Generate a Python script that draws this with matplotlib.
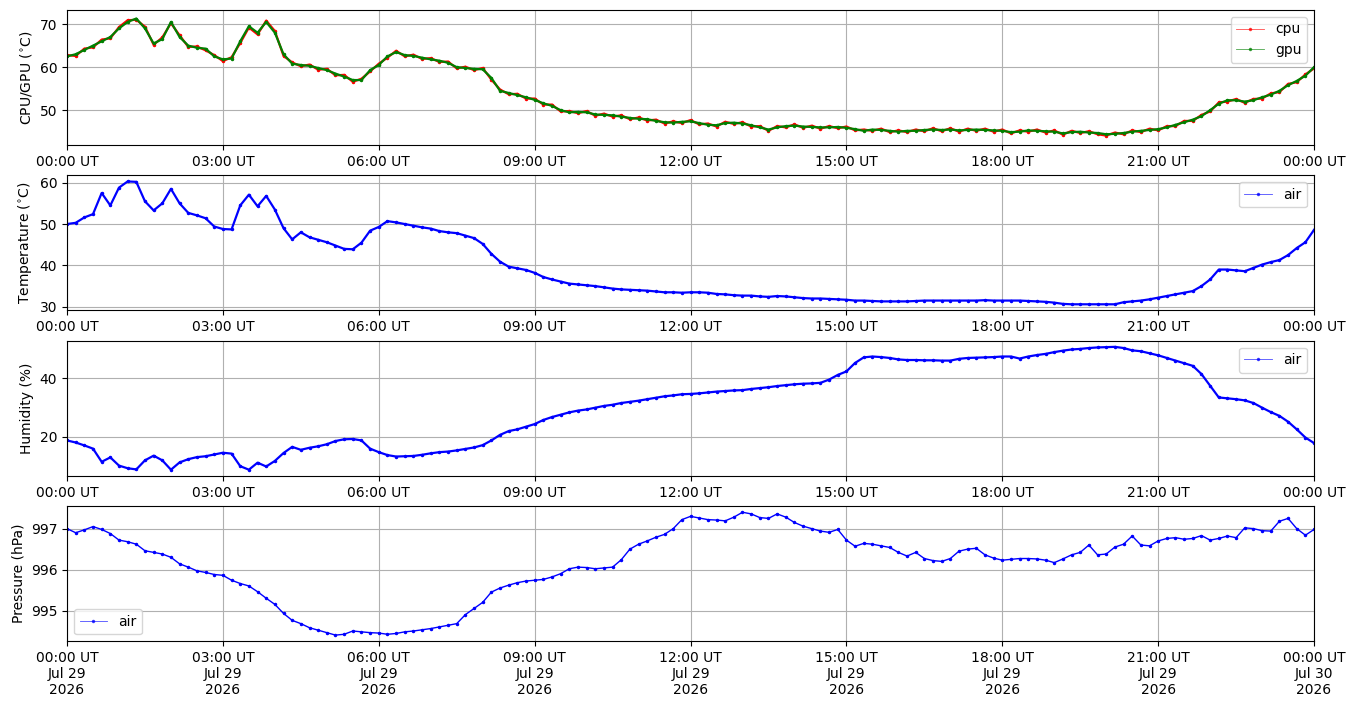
import numpy as np
import pandas as pd
import matplotlib
matplotlib.use('Agg')
import matplotlib.pyplot as plt
import matplotlib.dates as mdates
from matplotlib.lines import Line2D
from matplotlib.ticker import MultipleLocator, ScalarFormatter

# readings every 10 minutes, 29 Jul 2026 00:00 -> 30 Jul 00:00 UT
times = pd.date_range('2026-07-29 00:00', periods=145, freq='10min')

gpu = [62.5, 63.0, 64.0, 65.0, 66.0, 67.0, 69.0, 70.5, 71.3, 69.0,
       65.5, 66.5, 70.5, 67.0, 65.0, 64.5, 64.3, 62.5, 61.8, 62.0,
       66.0, 69.5, 68.0, 70.5, 68.0, 63.0, 60.8, 60.5, 60.3, 59.8,
       59.3, 58.5, 57.8, 57.0, 57.0, 59.3, 60.5, 62.5, 63.5, 62.8,
       62.6, 62.2, 61.8, 61.5, 61.0, 60.0, 59.8, 59.6, 59.5, 57.5,
       54.5, 54.0, 53.5, 53.0, 52.4, 51.6, 51.0, 50.0, 49.5, 49.6,
       49.5, 49.0, 48.9, 48.8, 48.5, 48.2, 48.0, 47.9, 47.5, 47.2,
       47.1, 47.3, 47.4, 47.0, 46.6, 46.5, 47.0, 47.1, 46.9, 46.5,
       46.0, 45.5, 46.0, 46.3, 46.4, 46.2, 46.1, 46.0, 46.0, 46.1,
       45.9, 45.6, 45.2, 45.5, 45.4, 45.2, 45.0, 45.2, 45.2, 45.4,
       45.5, 45.4, 45.5, 45.3, 45.4, 45.5, 45.4, 45.3, 45.2, 44.9,
       45.0, 45.3, 45.2, 45.1, 45.0, 44.6, 44.9, 45.0, 44.8, 44.7,
       44.4, 44.5, 44.7, 45.0, 45.2, 45.4, 45.6, 46.0, 46.6, 47.2,
       47.8, 48.6, 50.0, 51.5, 52.3, 52.3, 52.0, 52.3, 53.0, 53.6,
       54.5, 55.8, 56.8, 58.0, 60.0]

cpu = [62.8, 62.6, 64.3, 64.6, 66.4, 66.7, 69.3, 70.9, 71.0, 69.4,
       65.2, 66.9, 70.2, 67.4, 64.7, 64.8, 63.9, 62.8, 61.4, 62.3,
       65.6, 69.2, 67.6, 70.8, 68.4, 62.6, 61.1, 60.2, 60.6, 59.4,
       59.6, 58.1, 58.2, 56.6, 57.3, 59.0, 60.8, 62.2, 63.8, 62.5,
       62.9, 61.9, 62.1, 61.2, 61.3, 59.7, 60.1, 59.3, 59.8, 57.1,
       54.8, 53.7, 53.8, 52.7, 52.7, 51.3, 51.3, 49.7, 49.8, 49.3,
       49.8, 48.7, 49.2, 48.5, 48.8, 47.9, 48.3, 47.6, 47.8, 46.9,
       47.4, 47.0, 47.7, 46.7, 46.9, 46.2, 47.3, 46.8, 47.2, 46.2,
       46.3, 45.2, 46.3, 46.0, 46.7, 45.9, 46.4, 45.7, 46.3, 45.8,
       46.2, 45.3, 45.5, 45.2, 45.7, 44.9, 45.3, 44.9, 45.5, 45.1,
       45.8, 45.1, 45.8, 45.0, 45.7, 45.2, 45.7, 45.0, 45.5, 44.6,
       45.3, 45.0, 45.5, 44.8, 45.3, 44.3, 45.2, 44.7, 45.1, 44.4,
       44.1, 44.8, 44.4, 45.3, 44.9, 45.7, 45.3, 46.3, 46.3, 47.5,
       47.5, 48.9, 49.7, 51.8, 52.0, 52.6, 51.7, 52.6, 52.7, 53.9,
       54.2, 56.1, 56.5, 58.3, 59.7]

temp = [50.0, 50.3, 51.6, 52.4, 57.5, 54.5, 58.8, 60.3, 60.2, 55.5,
        53.3, 55.0, 58.5, 55.0, 52.7, 52.1, 51.4, 49.4, 48.8, 48.7,
        54.5, 57.1, 54.3, 56.8, 53.5, 49.0, 46.3, 48.0, 46.8, 46.2,
        45.6, 44.8, 44.0, 43.9, 45.5, 48.4, 49.3, 50.7, 50.4, 50.0,
        49.6, 49.2, 48.9, 48.3, 48.0, 47.8, 47.2, 46.6, 45.2, 42.8,
        40.9, 39.7, 39.3, 38.9, 38.2, 37.2, 36.6, 36.1, 35.6, 35.4,
        35.2, 35.0, 34.7, 34.4, 34.2, 34.1, 34.0, 33.9, 33.7, 33.5,
        33.5, 33.4, 33.5, 33.5, 33.4, 33.1, 33.0, 32.8, 32.7, 32.7,
        32.5, 32.4, 32.6, 32.5, 32.3, 32.1, 32.0, 32.0, 31.9, 31.8,
        31.7, 31.5, 31.5, 31.4, 31.3, 31.3, 31.3, 31.3, 31.4, 31.5,
        31.5, 31.5, 31.5, 31.5, 31.5, 31.5, 31.6, 31.5, 31.5, 31.5,
        31.5, 31.4, 31.3, 31.2, 31.0, 30.7, 30.6, 30.6, 30.6, 30.6,
        30.6, 30.6, 31.1, 31.3, 31.5, 31.8, 32.2, 32.6, 33.0, 33.4,
        33.8, 35.0, 36.6, 39.0, 39.0, 38.8, 38.6, 39.4, 40.2, 40.8,
        41.3, 42.5, 44.2, 45.6, 48.6]

hum = [18.8, 18.1, 17.1, 16.0, 11.5, 13.0, 10.2, 9.3, 8.9, 12.0,
       13.6, 12.0, 8.8, 11.3, 12.4, 13.1, 13.4, 14.0, 14.6, 14.3,
       10.0, 8.8, 11.2, 9.9, 11.8, 14.5, 16.6, 15.6, 16.3, 16.8,
       17.5, 18.6, 19.2, 19.3, 18.8, 16.0, 14.8, 13.8, 13.3, 13.4,
       13.5, 13.9, 14.4, 14.8, 15.0, 15.4, 15.9, 16.4, 17.2, 18.8,
       20.7, 22.0, 22.6, 23.5, 24.4, 25.8, 26.8, 27.6, 28.4, 29.0,
       29.4, 30.0, 30.6, 31.0, 31.6, 32.0, 32.4, 32.9, 33.4, 33.9,
       34.2, 34.6, 34.7, 34.9, 35.2, 35.5, 35.7, 35.9, 36.0, 36.4,
       36.7, 37.0, 37.4, 37.7, 38.0, 38.2, 38.3, 38.5, 39.6, 41.2,
       42.4, 45.3, 47.2, 47.5, 47.3, 47.0, 46.5, 46.3, 46.3, 46.2,
       46.2, 46.1, 46.1, 46.7, 47.0, 47.1, 47.2, 47.3, 47.5, 47.5,
       46.8, 47.5, 48.0, 48.4, 49.0, 49.5, 49.9, 50.1, 50.4, 50.6,
       50.7, 50.8, 50.4, 49.6, 49.3, 48.6, 47.9, 47.0, 46.1, 45.2,
       44.3, 41.5, 37.5, 33.5, 33.2, 32.9, 32.5, 31.6, 30.0, 28.5,
       27.2, 25.2, 22.6, 19.8, 17.9]

pres = [997.00, 996.90, 996.97, 997.05, 996.98, 996.88, 996.72, 996.68, 996.62, 996.46,
        996.42, 996.38, 996.30, 996.14, 996.06, 995.97, 995.93, 995.88, 995.86, 995.74,
        995.66, 995.60, 995.46, 995.30, 995.15, 994.93, 994.76, 994.68, 994.58, 994.52,
        994.46, 994.40, 994.42, 994.50, 994.48, 994.46, 994.45, 994.42, 994.44, 994.48,
        994.50, 994.53, 994.56, 994.60, 994.64, 994.68, 994.90, 995.05, 995.20, 995.45,
        995.55, 995.62, 995.68, 995.72, 995.74, 995.76, 995.82, 995.90, 996.02, 996.06,
        996.05, 996.02, 996.04, 996.06, 996.24, 996.50, 996.62, 996.70, 996.79, 996.86,
        997.00, 997.22, 997.30, 997.26, 997.22, 997.21, 997.19, 997.28, 997.40, 997.36,
        997.27, 997.25, 997.36, 997.28, 997.15, 997.06, 997.00, 996.94, 996.91, 996.98,
        996.72, 996.57, 996.64, 996.62, 996.58, 996.54, 996.42, 996.33, 996.42, 996.27,
        996.22, 996.20, 996.27, 996.45, 996.50, 996.52, 996.36, 996.28, 996.23, 996.25,
        996.27, 996.27, 996.26, 996.23, 996.17, 996.26, 996.36, 996.42, 996.60, 996.36,
        996.38, 996.55, 996.62, 996.82, 996.60, 996.58, 996.70, 996.76, 996.78, 996.74,
        996.76, 996.83, 996.72, 996.76, 996.82, 996.78, 997.02, 997.00, 996.95, 996.94,
        997.18, 997.25, 997.00, 996.84, 996.98]

fig, axes = plt.subplots(4, 1, figsize=(13.54, 7.07), dpi=100)
fig.subplots_adjust(left=0.0495, right=0.9705, top=0.986, bottom=0.093, hspace=0.224)

# dense trace look: thick line with dots
style = dict(marker='.', markersize=3, linewidth=1.6)


def handle(color, label):
    # thin, light legend line like the original
    return Line2D([], [], color=color, marker='.', markersize=3,
                  linewidth=0.6, alpha=0.7, label=label)


ax = axes[0]
ax.plot(times, cpu, color='red', **style)
ax.plot(times, gpu, color='green', **style)
ax.set_ylabel('CPU/GPU ($^{\\circ}$C)')
ax.yaxis.set_major_locator(MultipleLocator(10))
ax.legend(handles=[handle('red', 'cpu'), handle('green', 'gpu')], loc='upper right')

ax = axes[1]
ax.plot(times, temp, color='blue', **style)
ax.set_ylabel('Temperature ($^{\\circ}$C)')
ax.yaxis.set_major_locator(MultipleLocator(10))
ax.legend(handles=[handle('blue', 'air')], loc='upper right')

ax = axes[2]
ax.plot(times, hum, color='blue', **style)
ax.set_ylabel('Humidity (%)')
ax.yaxis.set_major_locator(MultipleLocator(20))
ax.legend(handles=[handle('blue', 'air')], loc='upper right')

ax = axes[3]
ax.plot(times, pres, color='blue', marker='.', markersize=3, linewidth=1.0)
ax.set_ylabel('Pressure (hPa)')
ax.yaxis.set_major_locator(MultipleLocator(1))
ax.yaxis.set_major_formatter(ScalarFormatter(useOffset=False))
ax.legend(handles=[handle('blue', 'air')], loc='lower left')

start = pd.Timestamp('2026-07-29 00:00')
end = pd.Timestamp('2026-07-30 00:00')
for i, ax in enumerate(axes):
    ax.set_xlim(start, end)
    ax.xaxis.set_major_locator(mdates.HourLocator(byhour=range(0, 24, 3)))
    if i < 3:
        ax.xaxis.set_major_formatter(mdates.DateFormatter('%H:%M UT'))
    else:
        ax.xaxis.set_major_formatter(mdates.DateFormatter('%H:%M UT\n%b %d\n%Y'))
    ax.grid(True)

axes[0].set_ylim(41.9, 73.3)

fig.savefig('out.png')
